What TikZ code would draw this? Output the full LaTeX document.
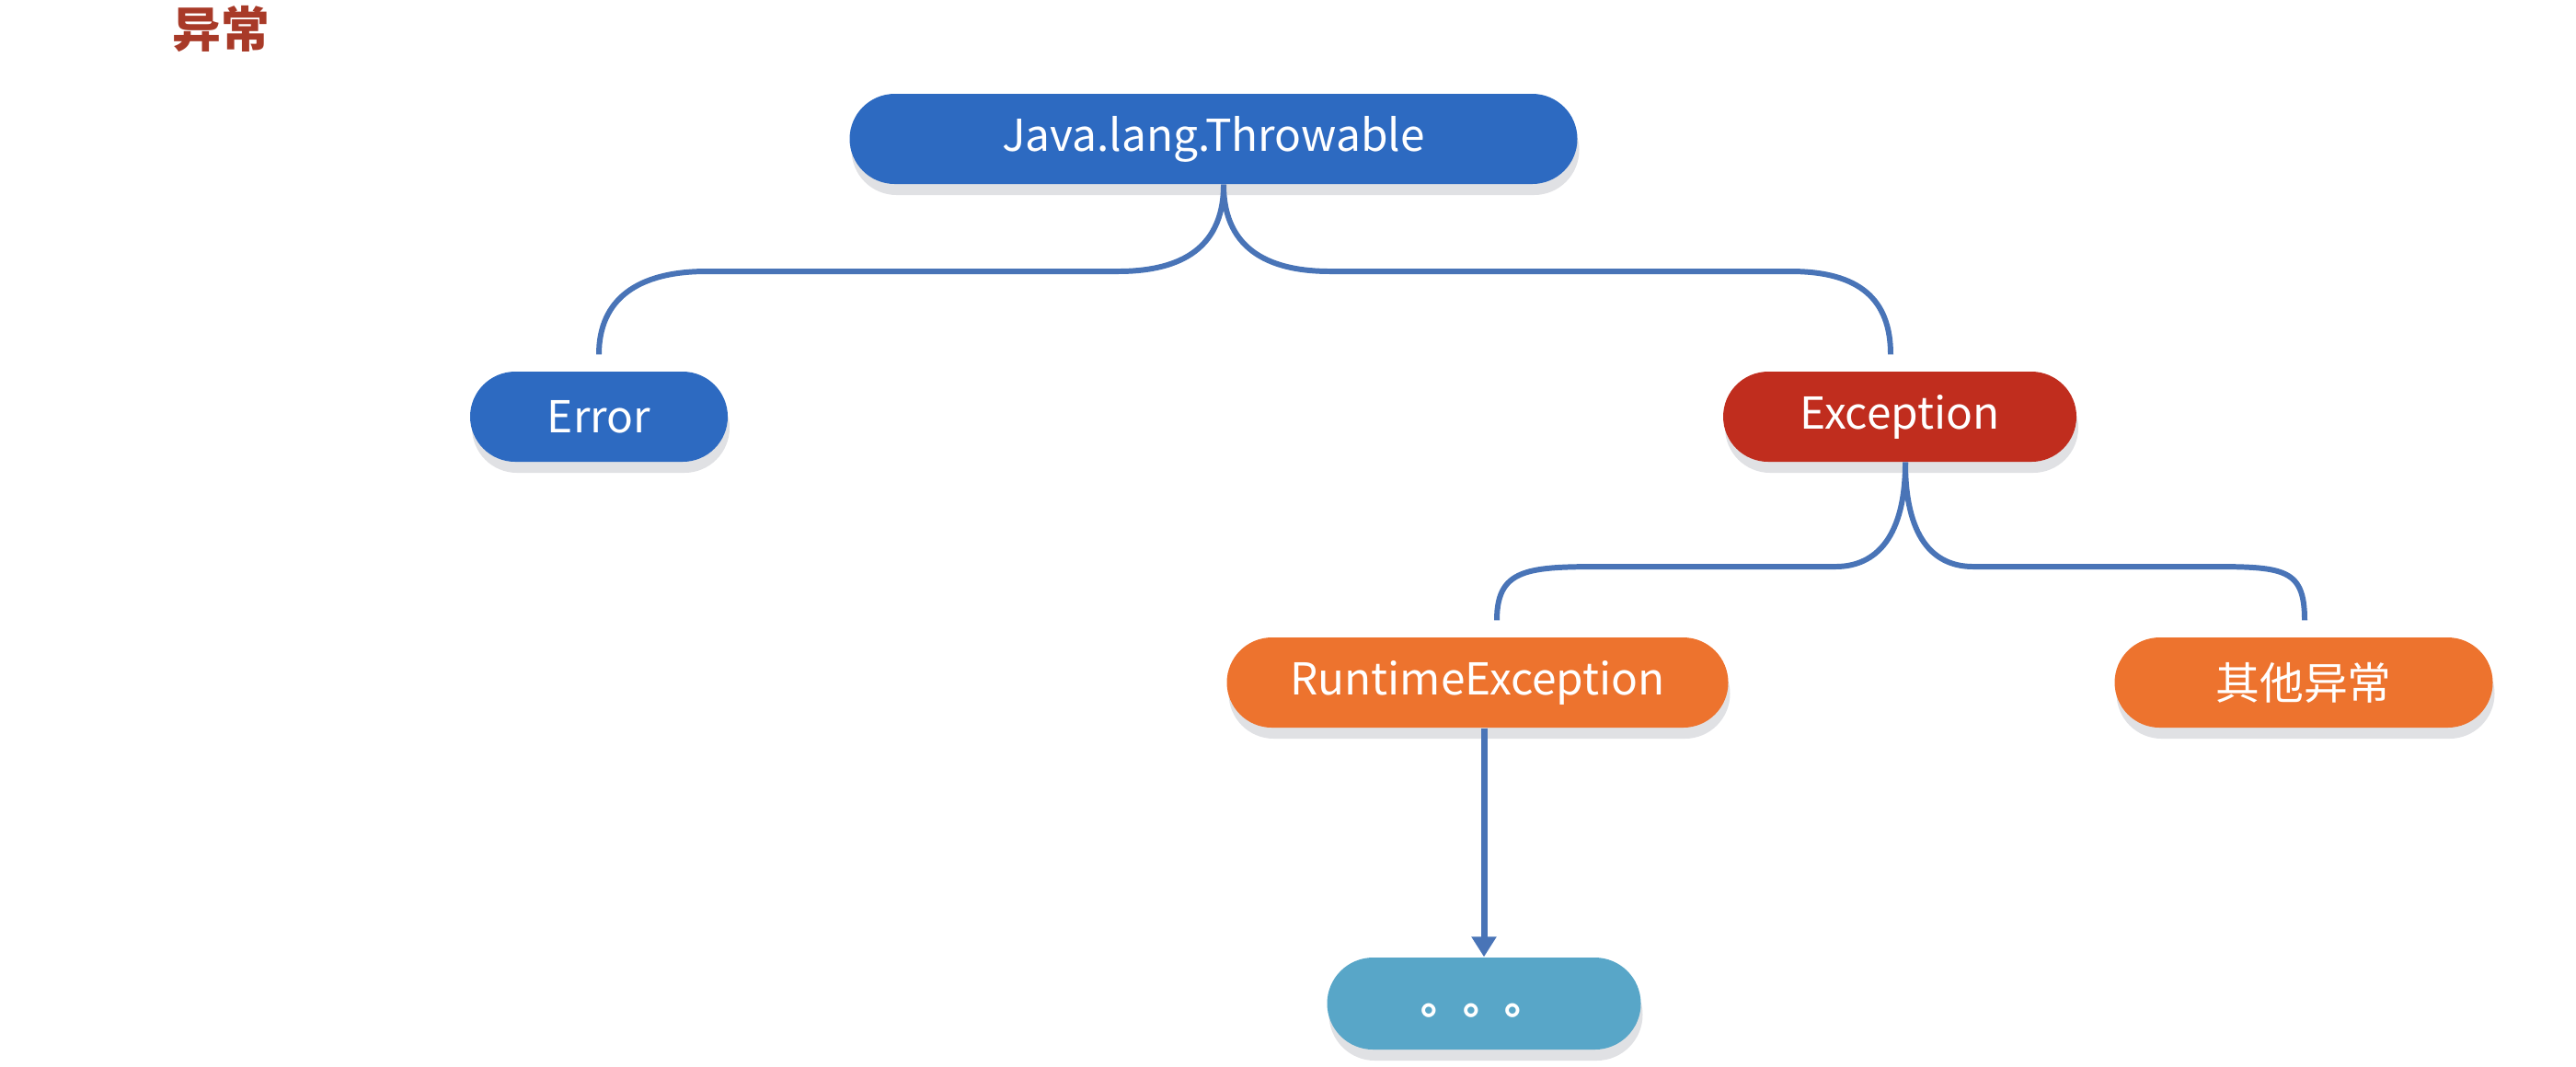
\documentclass[tikz,border=0pt]{standalone}
\usepackage{fontspec}
\newfontfamily\cjk{Noto Sans CJK SC}
\usetikzlibrary{shadows,arrows.meta}
\definecolor{blueN}{RGB}{45,106,193}
\definecolor{redN}{RGB}{192,45,30}
\definecolor{orangeN}{RGB}{237,115,46}
\definecolor{dotsN}{RGB}{88,166,200}
\definecolor{connC}{RGB}{73,116,183}
\definecolor{titleRed}{RGB}{168,58,40}
\definecolor{shadowG}{RGB}{224,225,228}
\begin{document}
\begin{tikzpicture}[x=1cm,y=1cm,
  pill/.style={rectangle, rounded corners=0.49cm, minimum height=0.98cm, inner sep=0pt,
    text=white, font=\cjk\fontsize{13.6}{16}\selectfont,
    drop shadow={shadow xshift=0.02cm, shadow yshift=-0.12cm, fill=shadowG, opacity=1}},
  conn/.style={draw=connC, line width=1.7pt}]
\useasboundingbox (0,0) rectangle (28,-11.59);

\node[font=\cjk\bfseries\fontsize{15}{18}\selectfont, text=titleRed, inner sep=0pt] (title) at (2.40,-0.32) {异常};

\node[pill, fill=blueN, minimum width=7.91cm] (thr) at (13.19,-1.51) {\raisebox{-0.03cm}{Java.lang.Throwable}};
\node[pill, fill=blueN, minimum width=2.80cm] (err) at (6.51,-4.53) {Error};
\node[pill, fill=redN, minimum width=3.84cm] (exc) at (20.65,-4.53) {Exception};
\node[pill, fill=orangeN, minimum width=5.45cm] (rt) at (16.06,-7.42) {RuntimeException};
\node[pill, fill=orangeN, minimum width=4.11cm] (oth) at (25.04,-7.42) {其他异常};
\node[pill, fill=dotsN, minimum width=3.41cm, minimum height=1.0cm, rounded corners=0.5cm,
  font=\cjk\bfseries\fontsize{13}{15}\selectfont] (dots) at (16.13,-10.91) {\raisebox{-0.27cm}{。。。}};

% coordinates of the connector bends
\coordinate (t0) at ([xshift=0.11cm]thr.south);
\coordinate (tl1) at (12.15,-2.95);
\coordinate (tl2) at (7.68,-2.95);
\coordinate (tr1) at (14.46,-2.95);
\coordinate (tr2) at (19.46,-2.95);
\coordinate (errT) at ([yshift=0.18cm]err.north);
\coordinate (excT) at ([xshift=-0.10cm,yshift=0.18cm]exc.north);
\coordinate (e0) at ([xshift=0.06cm]exc.south);
\coordinate (el1) at (19.95,-6.16);
\coordinate (el2) at (17.60,-6.16);
\coordinate (er1) at (21.45,-6.16);
\coordinate (er2) at (23.85,-6.16);
\coordinate (rtT) at ([xshift=0.21cm,yshift=0.18cm]rt.north);
\coordinate (othT) at ([xshift=0.01cm,yshift=0.18cm]oth.north);

\draw[conn] (t0) .. controls +(0,-0.75) and +(0.6,0) .. (tl1) -- (tl2)
  .. controls +(-0.75,0) and +(0,0.6) .. (errT);
\draw[conn] (t0) .. controls +(0,-0.75) and +(-0.6,0) .. (tr1) -- (tr2)
  .. controls +(0.75,0) and +(0,0.6) .. (excT);
\draw[conn] (e0) .. controls +(0,-0.8) and +(0.45,0) .. (el1) -- (el2)
  .. controls +(-0.95,0) and +(0,0.6) .. (rtT);
\draw[conn] (e0) .. controls +(0,-0.8) and +(-0.45,0) .. (er1) -- (er2)
  .. controls +(0.95,0) and +(0,0.6) .. (othT);
\draw[conn, line width=2pt, -{Triangle[width=0.26cm,length=0.22cm]}] (rt.south -| dots.north) -- (dots.north);
\end{tikzpicture}
\end{document}
